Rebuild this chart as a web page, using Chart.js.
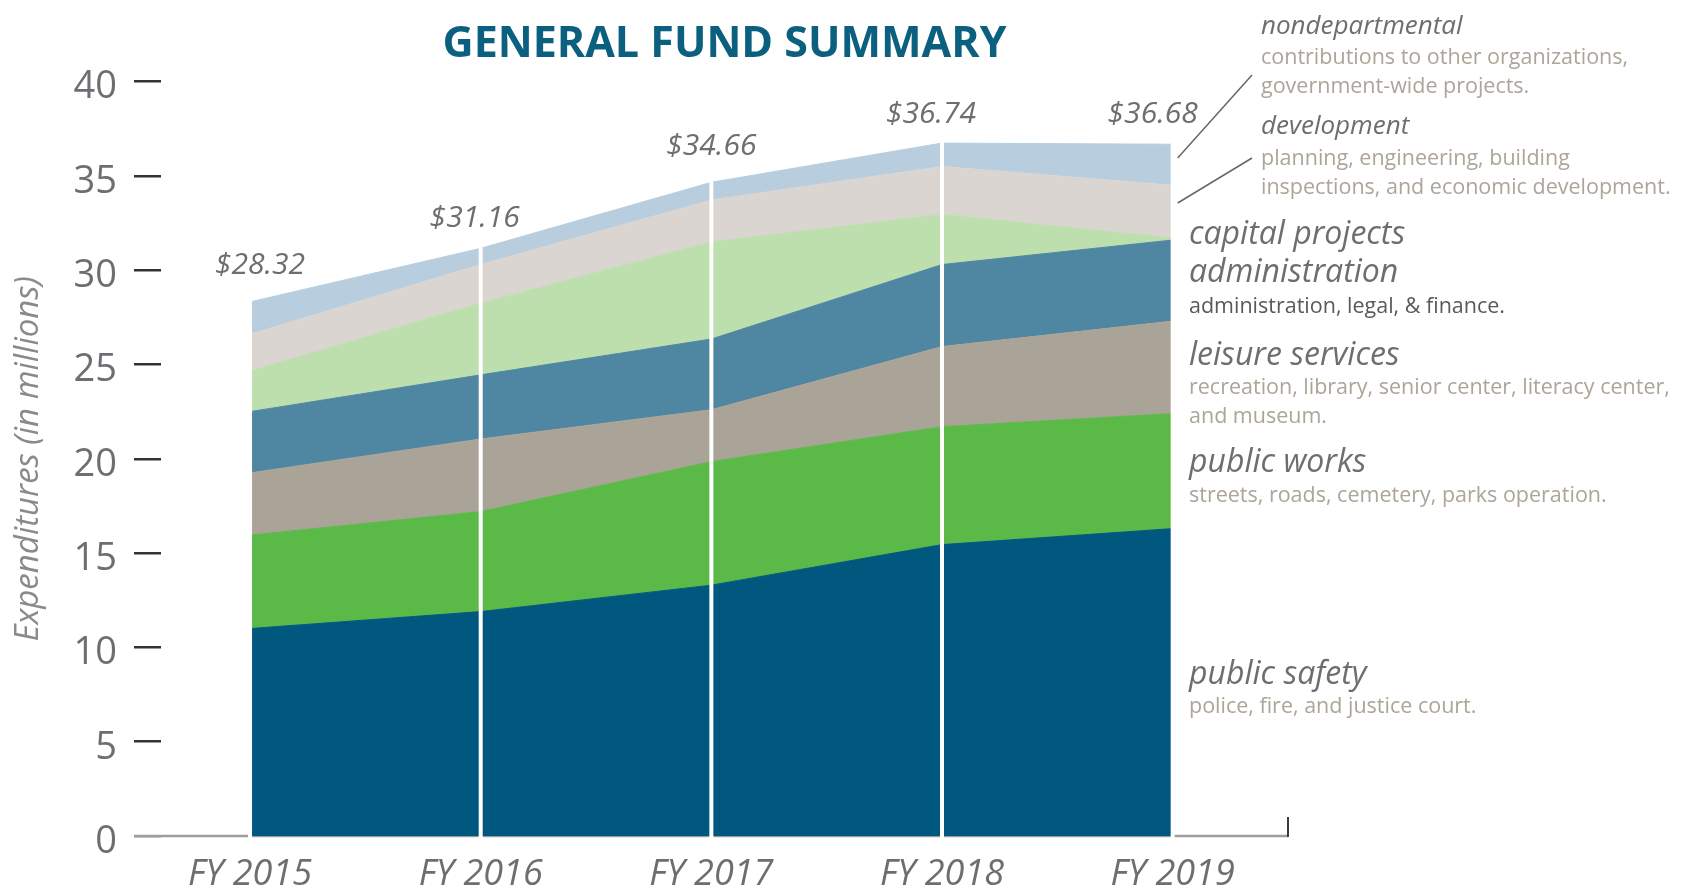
<!DOCTYPE html>
<html>
<head>
<meta charset="utf-8">
<title>General Fund Summary</title>
<script src="https://cdn.jsdelivr.net/npm/chart.js@4.4.1/dist/chart.umd.min.js"></script>
<style>
  html, body { margin: 0; padding: 0; background: #fff; }
  #wrap { position: relative; width: 1683px; height: 892px; }
</style>
</head>
<body>
<div id="wrap"><canvas id="fundChart"></canvas></div>
<script>
// fiscal years along the x axis
const years = ['FY 2015', 'FY 2016', 'FY 2017', 'FY 2018', 'FY 2019'];
// printed totals above each year
const totals = ['$28.32', '$31.16', '$34.66', '$36.74', '$36.68'];

// expenditures by department, in millions (stacked bottom to top)
const publicSafety    = [11.0, 11.9, 13.3, 15.45, 16.3];
const publicWorks     = [4.95, 5.3, 6.55, 6.25, 6.1];
const leisureServices = [3.3, 3.85, 2.75, 4.25, 4.9];
const administration  = [3.25, 3.4, 3.75, 4.35, 4.3];
const capitalProjects = [2.15, 3.8, 5.15, 2.65, 0.1];
const development     = [1.95, 2.05, 2.22, 2.55, 2.8];
const nondepartmental = [1.72, 0.86, 0.94, 1.24, 2.18];

const yTicks = [0, 5, 10, 15, 20, 25, 30, 35, 40];

const FONT = "'Open Sans', 'DejaVu Sans', sans-serif";
const GREY = '#6d6e71';
const TAUPE = '#aca598';

// series in stacking order
const layers = [
  { label: 'public safety', data: publicSafety, color: '#01587f' },
  { label: 'public works', data: publicWorks, color: '#5ab947' },
  { label: 'leisure services', data: leisureServices, color: '#aaa397' },
  { label: 'administration', data: administration, color: '#4f87a2' },
  { label: 'capital projects', data: capitalProjects, color: '#bddfae' },
  { label: 'development', data: development, color: '#dad5d1' },
  { label: 'nondepartmental', data: nondepartmental, color: '#b8cedf' }
];

// right-hand captions (text + layout)
const notes = [
  { text: 'nondepartmental', x: 1261, y: 27, size: 26, italic: true, color: GREY },
  { text: 'contributions to other organizations,', x: 1261, y: 58, size: 21.5, color: TAUPE },
  { text: 'government-wide projects.', x: 1261, y: 87, size: 21.5, color: TAUPE },
  { text: 'development', x: 1261, y: 127, size: 26, italic: true, color: GREY },
  { text: 'planning, engineering, building', x: 1261, y: 159, size: 21.5, color: TAUPE },
  { text: 'inspections, and economic development.', x: 1261, y: 188, size: 21.5, color: TAUPE },
  { text: 'capital projects', x: 1189, y: 235, size: 32, italic: true, color: GREY },
  { text: 'administration', x: 1189, y: 273, size: 32, italic: true, color: GREY },
  { text: 'administration, legal, & finance.', x: 1189, y: 307, size: 21.5, color: '#58595b' },
  { text: 'leisure services', x: 1189, y: 356, size: 32, italic: true, color: GREY },
  { text: 'recreation, library, senior center, literacy center,', x: 1189, y: 388, size: 21.5, color: TAUPE },
  { text: 'and museum.', x: 1189, y: 417, size: 21.5, color: TAUPE },
  { text: 'public works', x: 1189, y: 463, size: 32, italic: true, color: GREY },
  { text: 'streets, roads, cemetery, parks operation.', x: 1189, y: 496, size: 21.5, color: TAUPE },
  { text: 'public safety', x: 1189, y: 675, size: 32, italic: true, color: GREY },
  { text: 'police, fire, and justice court.', x: 1189, y: 707, size: 21.5, color: TAUPE }
];

// nudges of the total labels from the top of each stack (dx, dy in px)
const totalNudge = [[10, -36], [-6, -30], [0, -36], [-11, -29], [-20, -30]];

const stackTop = years.map((_, i) => layers.reduce((s, l) => s + l.data[i], 0));

const decorations = {
  id: 'decorations',
  beforeDatasetsDraw(chart) {
    const { ctx, chartArea, scales: { y } } = chart;
    const y0 = y.getPixelForValue(0);
    ctx.save();
    // baseline, the areas paint over it
    ctx.strokeStyle = '#9d9d9d';
    ctx.lineWidth = 2.5;
    ctx.beginPath();
    ctx.moveTo(chartArea.left - 27, y0);
    ctx.lineTo(chartArea.right, y0);
    ctx.stroke();
    ctx.strokeStyle = '#3a3a3a';
    ctx.lineWidth = 2;
    ctx.beginPath();
    ctx.moveTo(chartArea.right, y0 + 1);
    ctx.lineTo(chartArea.right, y0 - 19);
    ctx.stroke();
    ctx.restore();
  },
  afterDatasetsDraw(chart) {
    const { ctx, scales: { x, y } } = chart;
    const y0 = y.getPixelForValue(0);
    ctx.save();

    // white separators at every year
    ctx.fillStyle = '#ffffff';
    years.forEach((_, i) => {
      const px = x.getPixelForValue(i);
      const top = y.getPixelForValue(stackTop[i]);
      ctx.fillRect(px - 2, top - 1, 4, y0 - top + 3);
    });

    // totals
    ctx.fillStyle = GREY;
    ctx.font = `italic 30px ${FONT}`;
    ctx.textAlign = 'center';
    ctx.textBaseline = 'middle';
    totals.forEach((t, i) => {
      const [dx, dy] = totalNudge[i];
      ctx.fillText(t, x.getPixelForValue(i) + dx, y.getPixelForValue(stackTop[i]) + dy);
    });

    // leader lines for the two thin top bands
    const xr = x.getPixelForValue(years.length - 1);
    ctx.strokeStyle = '#666';
    ctx.lineWidth = 1.5;
    ctx.beginPath();
    ctx.moveTo(xr + 5, 158);
    ctx.lineTo(1252, 75);
    ctx.moveTo(xr + 5, 203);
    ctx.lineTo(1252, 158);
    ctx.stroke();

    // captions
    ctx.textAlign = 'left';
    notes.forEach(n => {
      ctx.fillStyle = n.color;
      ctx.font = `${n.italic ? 'italic ' : ''}${n.size}px ${FONT}`;
      ctx.fillText(n.text, n.x, n.y);
    });
    ctx.restore();
  }
};

new Chart(document.getElementById('fundChart'), {
  type: 'line',
  data: {
    datasets: layers.map((l, i) => ({
      label: l.label,
      data: l.data.map((v, k) => ({ x: k, y: v })),
      backgroundColor: l.color,
      borderColor: l.color,
      borderWidth: 1,
      pointRadius: 0,
      tension: 0,
      fill: i === 0 ? 'origin' : '-1'
    }))
  },
  options: {
    responsive: true,
    maintainAspectRatio: false,
    animation: false,
    layout: { padding: { left: 0, right: 395, top: 0, bottom: 0 } },
    plugins: {
      legend: { display: false },
      tooltip: { enabled: false },
      title: {
        display: true,
        text: 'GENERAL FUND SUMMARY',
        fullSize: false,
        color: '#0b5f7f',
        font: { family: FONT, size: 43, weight: 'bold' },
        padding: { top: 19, bottom: 11 }
      }
    },
    scales: {
      x: {
        type: 'linear',
        min: -0.386,
        max: 4.5,
        afterBuildTicks: s => { s.ticks = years.map((_, i) => ({ value: i })); },
        afterFit: s => { s.height = 56; },
        grid: { display: false },
        border: { display: false },
        ticks: {
          callback: v => years[v],
          autoSkip: false,
          maxRotation: 0,
          padding: 9,
          color: GREY,
          font: { family: FONT, size: 36, style: 'italic' }
        }
      },
      y: {
        stacked: true,
        min: 0,
        max: 40,
        afterBuildTicks: s => { s.ticks = yTicks.map(v => ({ value: v })); },
        afterFit: s => { s.width = 161; },
        border: { display: false },
        grid: {
          drawOnChartArea: false,
          drawTicks: true,
          tickLength: 27,
          lineWidth: 2.5,
          color: c => (c.tick && c.tick.value === 0 ? '#9d9d9d' : '#333')
        },
        ticks: { padding: 17, labelOffset: 6, color: GREY, font: { family: FONT, size: 38 } },
        title: {
          display: true,
          text: 'Expenditures (in millions)',
          color: '#8a8a8a',
          font: { family: FONT, size: 33, style: 'italic' },
          padding: { top: 9, bottom: 0 }
        }
      }
    }
  },
  plugins: [decorations]
});
</script>
</body>
</html>
